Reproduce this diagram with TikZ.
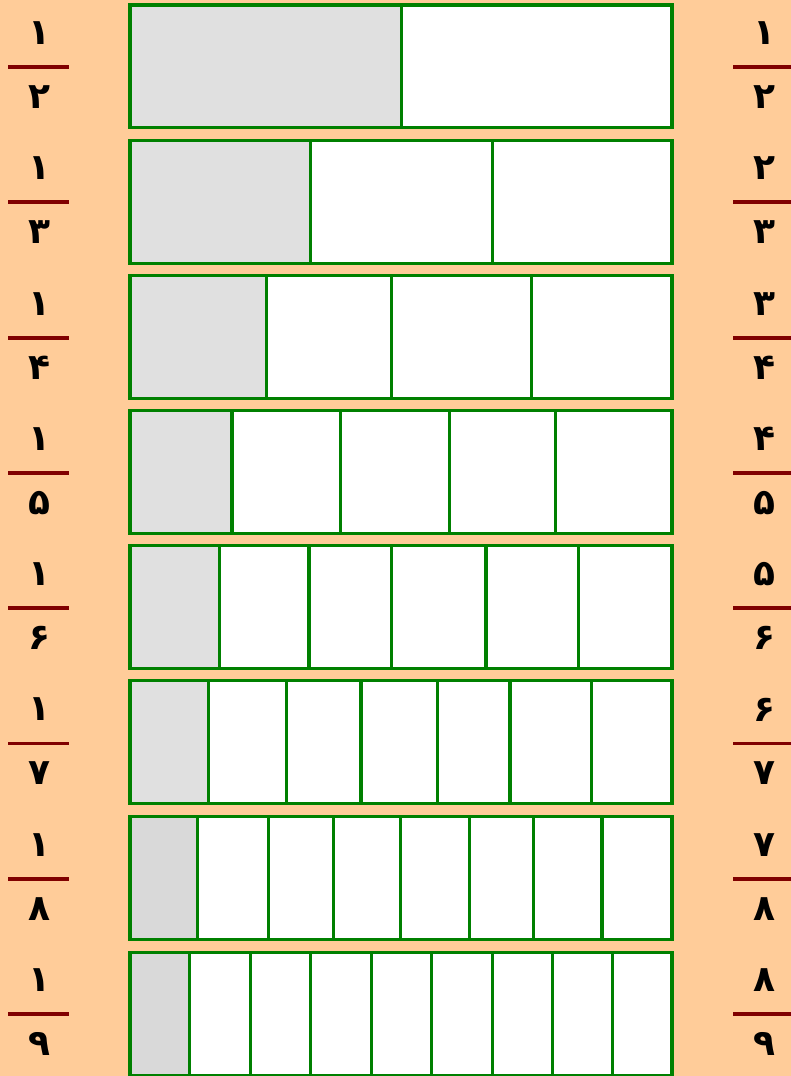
\documentclass[tikz,border=0pt]{standalone}
\usepackage{fontspec}
\newfontfamily\fa[Script=Arabic]{DejaVu Sans}
\definecolor{peach}{HTML}{FFCC99}
\definecolor{barg}{HTML}{008000}
\definecolor{fracred}{HTML}{800000}
\definecolor{greyA}{HTML}{E0E0E0}
\definecolor{greyB}{HTML}{D9D9D9}
\begin{document}
\begin{tikzpicture}[x=1pt,y=-1pt,
  barline/.style={draw=barg,line width=3.2pt},
  fracline/.style={draw=fracred,line width=3.8pt},
  num/.style={inner sep=0pt,font=\fa\bfseries\fontsize{36}{36}\selectfont,text=black}]
\fill[peach] (0,0) rectangle (791,1076);
\useasboundingbox (0,0) rectangle (791,1076);
% bars: row / top / grey / first divider / all dividers
\foreach \i/\t/\g/\f/\divs in {
  1/5/greyA/401.4/{401.4},
  2/140.5/greyA/310.1/{310.1,492.6},
  3/275.5/greyA/266.5/{266.5,391.2,531.5},
  4/410.5/greyA/232/{232,340.3,449.3,555.1},
  5/545.5/greyA/219.2/{219.2,309,391.2,486,578.4},
  6/680.5/greyA/208.3/{208.3,286.1,361,437.3,510,591.5},
  7/816.5/greyB/197.1/{197.1,268.3,333.4,400.3,469.3,533.3,602},
  8/952.3/greyB/189.1/{189.1,250.1,310.1,371.2,431.5,492.6,552.2,612.5}}{
  \pgfmathsetmacro\b{\t+122.8}
  \fill[white] (130,\t) rectangle (672,\b);
  \fill[\g] (130,\t) rectangle (\f,\b);
  \foreach \d in \divs { \draw[barline] (\d,\t) -- (\d,\b); }
  \draw[barline] (130,\t) rectangle (672,\b);
}
% fractions
\foreach \i/\ln/\ld/\rn/\rd in {
  1/۱/۲/۱/۲, 2/۱/۳/۲/۳, 3/۱/۴/۳/۴, 4/۱/۵/۴/۵,
  5/۱/۶/۵/۶, 6/۱/۷/۶/۷, 7/۱/۸/۷/۸, 8/۱/۹/۸/۹}{
  \pgfmathsetmacro\ly{67+135.3*(\i-1)}
  \pgfmathsetmacro\ny{\ly-34}
  \pgfmathsetmacro\dy{\ly+30}
  \coordinate (la\i) at (8,\ly);
  \coordinate (lb\i) at (69,\ly);
  \coordinate (ra\i) at (733,\ly);
  \coordinate (rb\i) at (791,\ly);
  \draw[fracline] (la\i) -- (lb\i);
  \draw[fracline] (ra\i) -- (rb\i);
  \node[num] (lnum\i) at (39,\ny) {\ln};
  \node[num] (lden\i) at (39,\dy) {\ld};
  \node[num] (rnum\i) at (764,\ny) {\rn};
  \node[num] (rden\i) at (764,\dy) {\rd};
}
\end{tikzpicture}
\end{document}
